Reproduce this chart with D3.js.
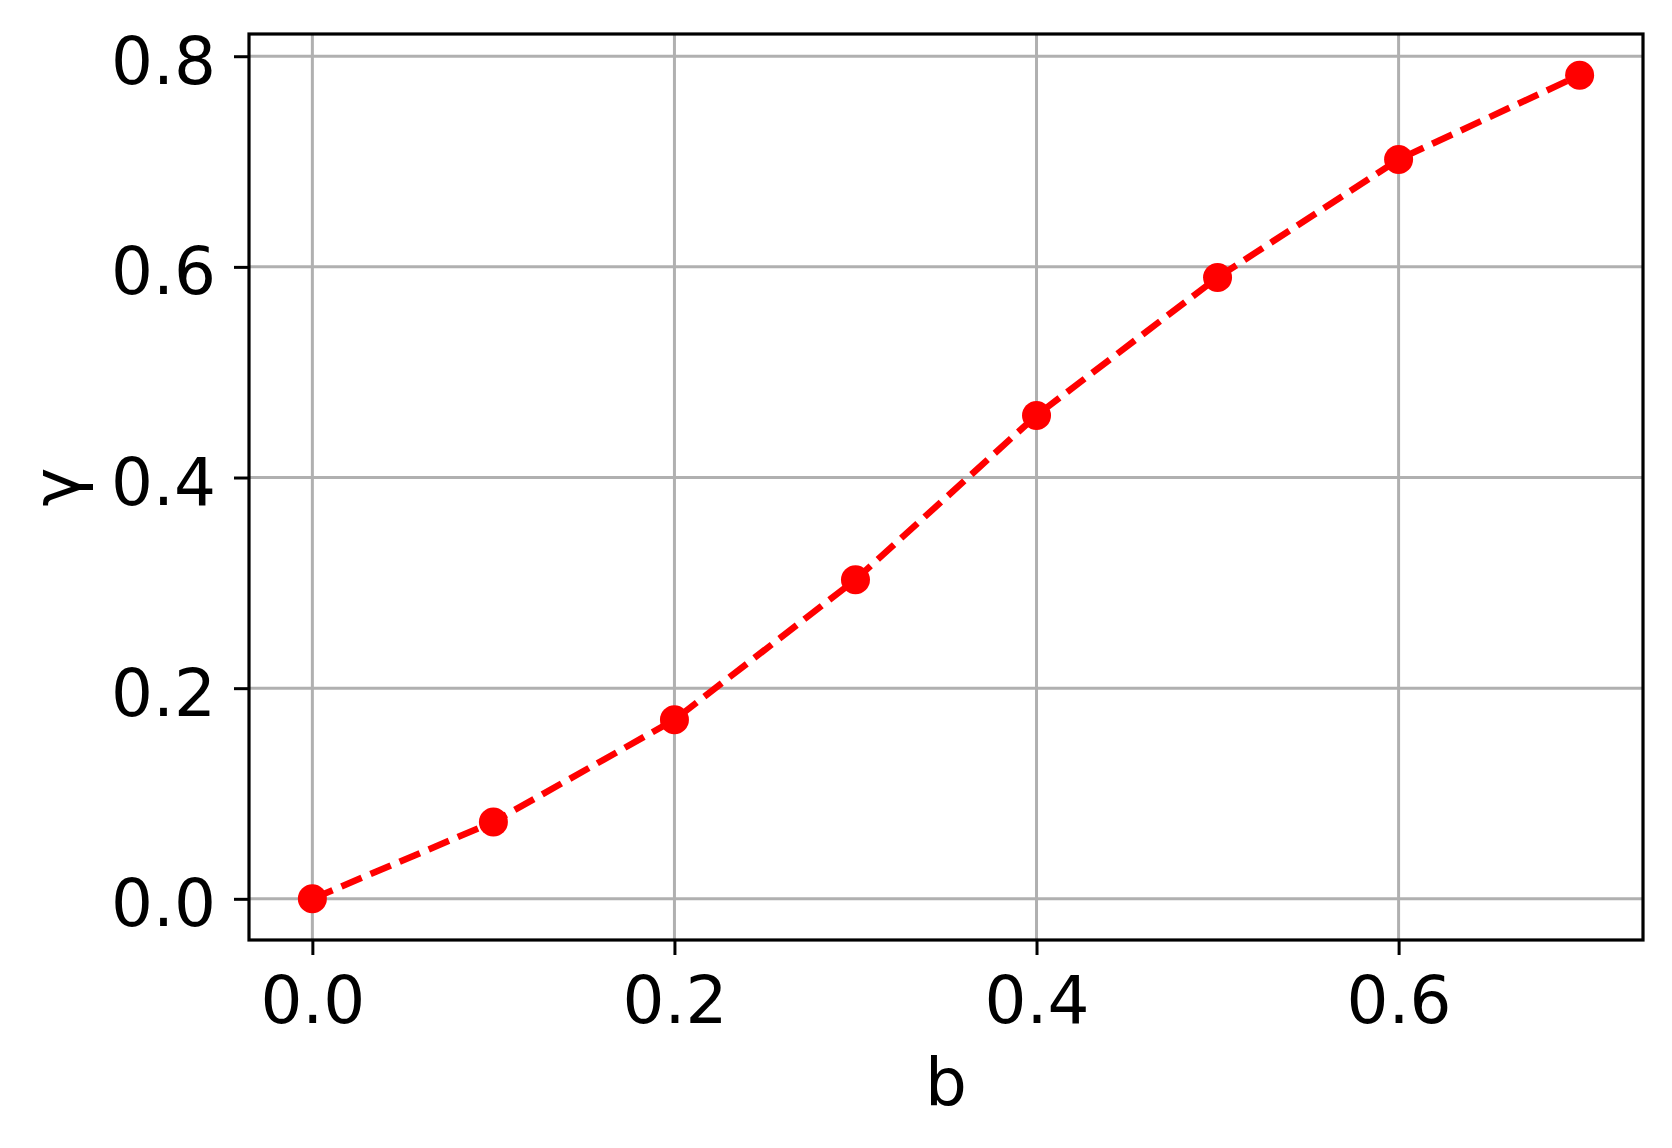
<!DOCTYPE html>
<html>
<head>
<meta charset="utf-8">
<script src="https://cdn.jsdelivr.net/npm/d3@7"></script>
<style>
  body { margin: 0; background: #fff; }
  text { font-family: "DejaVu Sans", sans-serif; fill: #000; }
</style>
</head>
<body>
<div id="chart"></div>
<script>
// Data
const bValues = [0.0, 0.1, 0.2, 0.3, 0.4, 0.5, 0.6, 0.7];
const gammaValues = [0.0, 0.073, 0.170, 0.303, 0.459, 0.590, 0.702, 0.782];
const xTicks = [0.0, 0.2, 0.4, 0.6];
const yTicks = [0.0, 0.2, 0.4, 0.6, 0.8];

const width = 1672,
  height = 1148;
const margin = { top: 34, right: 29, bottom: 208, left: 249 };
const plotWidth = width - margin.left - margin.right,
  plotHeight = height - margin.top - margin.bottom;

const svg = d3
  .select("#chart")
  .append("svg")
  .attr("width", width)
  .attr("height", height);

const g = svg
  .append("g")
  .attr("transform", `translate(${margin.left}, ${margin.top})`);

// Scales (5% padding like matplotlib)
const xPad = (d3.max(bValues) - d3.min(bValues)) * 0.05;
const yPad = (d3.max(gammaValues) - d3.min(gammaValues)) * 0.05;
const xScale = d3
  .scaleLinear()
  .domain([d3.min(bValues) - xPad, d3.max(bValues) + xPad])
  .range([0, plotWidth]);
const yScale = d3
  .scaleLinear()
  .domain([d3.min(gammaValues) - yPad, d3.max(gammaValues) + yPad])
  .range([plotHeight, 0]);

// Grid
g.append("g")
  .selectAll("line")
  .data(xTicks)
  .enter()
  .append("line")
  .attr("x1", (d) => xScale(d))
  .attr("x2", (d) => xScale(d))
  .attr("y1", 0)
  .attr("y2", plotHeight)
  .attr("stroke", "#b0b0b0")
  .attr("stroke-width", 3);

g.append("g")
  .selectAll("line")
  .data(yTicks)
  .enter()
  .append("line")
  .attr("x1", 0)
  .attr("x2", plotWidth)
  .attr("y1", (d) => yScale(d))
  .attr("y2", (d) => yScale(d))
  .attr("stroke", "#b0b0b0")
  .attr("stroke-width", 3);

// Axes
const xAxis = g
  .append("g")
  .attr("transform", `translate(0, ${plotHeight})`)
  .call(
    d3.axisBottom(xScale).tickValues(xTicks).tickFormat(d3.format(".1f")).tickSize(15).tickSizeOuter(0)
  );
const yAxis = g
  .append("g")
  .call(
    d3.axisLeft(yScale).tickValues(yTicks).tickFormat(d3.format(".1f")).tickSize(15).tickSizeOuter(0)
  );

[xAxis, yAxis].forEach((ax) => {
  ax.select(".domain").remove();
  ax.selectAll(".tick line").attr("stroke", "#000").attr("stroke-width", 3);
  ax.selectAll(".tick text").style("font-size", "66px").attr("fill", "#000");
});
xAxis.selectAll(".tick text").attr("y", 0).attr("dy", null).attr("transform", "translate(0, 83)");
yAxis.selectAll(".tick text").attr("x", -33).attr("dy", "0.41em");

// Line
const line = d3
  .line()
  .x((d, i) => xScale(bValues[i]))
  .y((d) => yScale(d));

g.append("path")
  .datum(gammaValues)
  .attr("fill", "none")
  .attr("stroke", "#ff0000")
  .attr("stroke-width", 6.5)
  .attr("stroke-dasharray", "22,9.6")
  .attr("d", line);

// Points
g.selectAll(".dot")
  .data(gammaValues)
  .enter()
  .append("circle")
  .attr("class", "dot")
  .attr("cx", (d, i) => xScale(bValues[i]))
  .attr("cy", (d) => yScale(d))
  .attr("r", 14.5)
  .attr("fill", "#ff0000");

// Frame
g.append("rect")
  .attr("width", plotWidth)
  .attr("height", plotHeight)
  .attr("fill", "none")
  .attr("stroke", "#000")
  .attr("stroke-width", 3.2);

// Axis labels
svg
  .append("text")
  .attr("x", margin.left + plotWidth / 2)
  .attr("y", 1105)
  .attr("text-anchor", "middle")
  .style("font-size", "66px")
  .text("b");

svg
  .append("text")
  .attr("transform", `translate(79, ${margin.top + plotHeight / 2}) rotate(-90)`)
  .attr("text-anchor", "middle")
  .style("font-size", "66px")
  .text("γ");
</script>
</body>
</html>
